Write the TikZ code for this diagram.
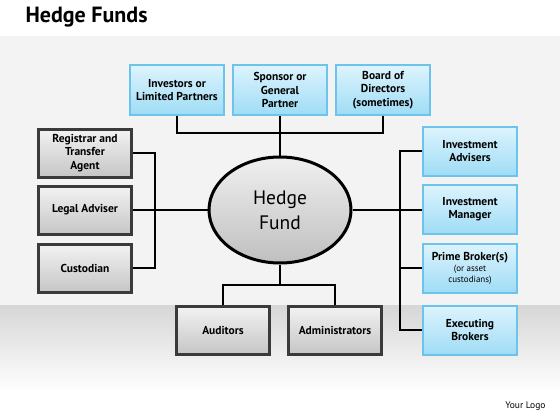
\documentclass[tikz,border=0pt]{standalone}
\usepackage{fontspec}
\setmainfont{PT Sans}
\usetikzlibrary{positioning, shapes.geometric, shadows}
\definecolor{hfblue}{HTML}{6CC4EC}
\definecolor{hfbluetop}{HTML}{DDF4FD}
\definecolor{hfbluebot}{HTML}{9FDCF5}
\definecolor{hfdark}{HTML}{3A3A3A}
\definecolor{hfback}{HTML}{F3F3F3}
\definecolor{hfband}{HTML}{D6D6D6}

\begin{document}
\begin{tikzpicture}[
  x=1pt, y=-1pt,
  every node/.style={font=\bfseries\fontsize{11.5}{13.5}\selectfont, align=center},
  bluebox/.style={rectangle, draw=hfblue, line width=2pt, top color=hfbluetop, bottom color=hfbluebot,
    minimum width=94pt, minimum height=49pt, inner sep=1pt,
    drop shadow={shadow xshift=1pt, shadow yshift=-1.5pt, opacity=0.35}},
  graybox/.style={rectangle, draw=hfdark, line width=3pt, top color=gray!10, bottom color=gray!45,
    minimum width=93pt, minimum height=48pt, inner sep=1pt},
  link/.style={line width=1.4pt, black},
]
\useasboundingbox (0,0) rectangle (560,420);

% Background
\fill[white] (0,0) rectangle (560,420);
\fill[hfback] (0,36) rectangle (560,305);
\shade[top color=hfband, bottom color=white] (0,305) rectangle (560,392);

% Title
\node[font=\bfseries\fontsize{22}{26}\selectfont, anchor=west] (title) at (22,17) {Hedge Funds};

% Centre
\node[ellipse, draw=black, line width=3pt, top color=gray!12, bottom color=gray!50,
  minimum width=142pt, minimum height=106pt, font=\fontsize{19.5}{25}\selectfont] (fund) at (280,210) {Hedge\\Fund};

% Top row
\node[bluebox] (investors) at (177,90) {Investors or\\Limited Partners};
\node[bluebox] (sponsor) at (280,90) {Sponsor or\\General\\Partner};
\node[bluebox] (board) at (383,90) {Board of\\Directors\\(sometimes)};

% Left column
\node[graybox] (registrar) at (85,153) {Registrar and\\Transfer\\Agent};
\node[graybox] (legal) at (85,210) {Legal Adviser};
\node[graybox] (custodian) at (85,268) {Custodian};

% Bottom row
\node[graybox] (auditors) at (223,330) {Auditors};
\node[graybox] (admins) at (335,330) {Administrators};

% Right column
\node[bluebox] (advisers) at (470,151) {Investment\\Advisers};
\node[bluebox] (manager) at (470,209) {Investment\\Manager};
\node[bluebox] (broker) at (470,268) {Prime Broker(s)\\[-2pt]{\mdseries\fontsize{9}{10.5}\selectfont (or asset}\\[-3pt]{\mdseries\fontsize{9}{10.5}\selectfont custodians)}};
\node[bluebox] (brokers) at (470,330) {Executing\\Brokers};

% Junctions
\coordinate (topbus) at (280,133);
\coordinate (leftbus) at (155,210);
\coordinate (rightbus) at (400,210);
\coordinate (botbus) at (280,285);

% Connectors
\draw[link] (investors.south) |- (topbus) -| (board.south);
\draw[link] (sponsor.south) -- (fund.north);
\draw[link] (registrar.east) -| (leftbus) |- (custodian.east);
\draw[link] (legal.east) -- (fund.west);
\draw[link] (advisers.west) -| (rightbus) |- (brokers.west);
\draw[link] (fund.east) -- (fund.east -| manager.west);
\draw[link] (broker.west) -- (broker.west -| rightbus);
\draw[link] (fund.south) -- (botbus);
\draw[link] (auditors.north) |- (botbus) -| (admins.north);

% Logo
\node[font=\fontsize{9.5}{11}\selectfont, anchor=east] (logo) at (549,406) {Your Logo};

\end{tikzpicture}
\end{document}
